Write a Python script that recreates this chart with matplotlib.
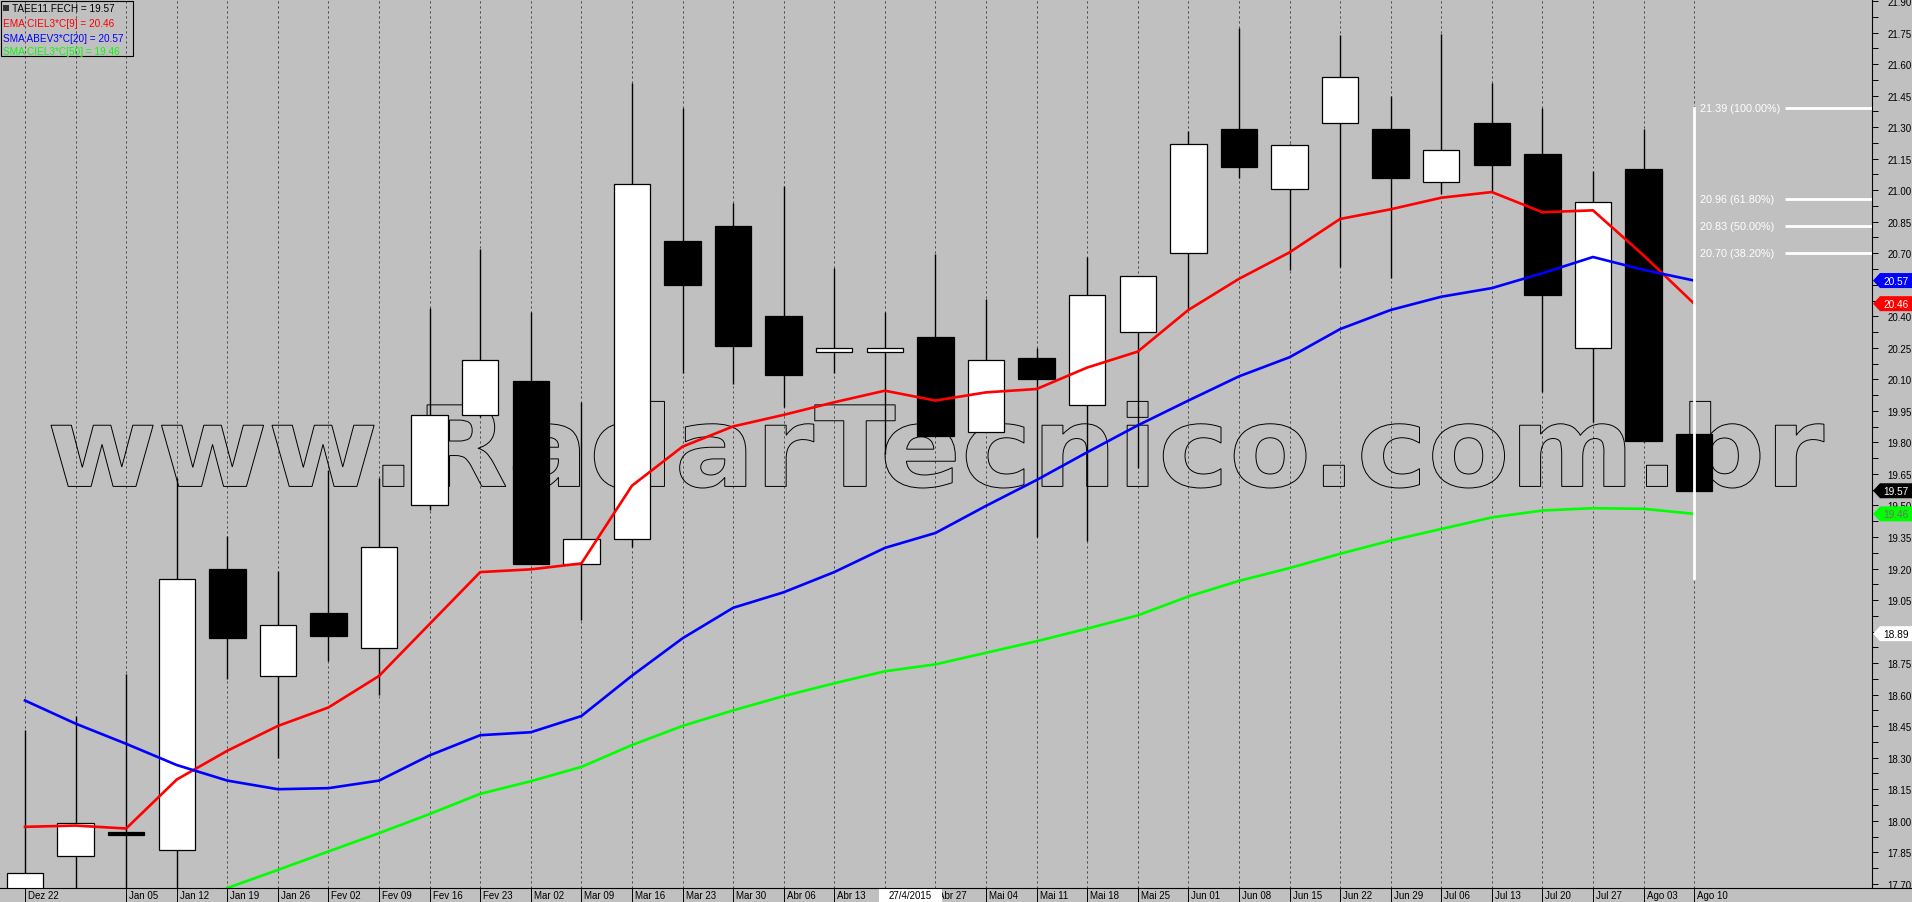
import matplotlib
matplotlib.use("Agg")
import matplotlib.pyplot as plt
from matplotlib.patches import Rectangle, Polygon, PathPatch
from matplotlib.textpath import TextPath
from matplotlib.font_manager import FontProperties
from matplotlib.transforms import Affine2D
from matplotlib.ticker import MultipleLocator, FuncFormatter
from matplotlib.lines import Line2D

plt.rcParams["font.family"] = ["Liberation Sans", "DejaVu Sans"]

# weekly candles TAEE11
week_labels = ["Dez 22", "", "Jan 05", "Jan 12", "Jan 19", "Jan 26", "Fev 02", "Fev 09",
               "Fev 16", "Fev 23", "Mar 02", "Mar 09", "Mar 16", "Mar 23", "Mar 30",
               "Abr 06", "Abr 13", "Abr 20", "Abr 27", "Mai 04", "Mai 11", "Mai 18",
               "Mai 25", "Jun 01", "Jun 08", "Jun 15", "Jun 22", "Jun 29", "Jul 06",
               "Jul 13", "Jul 20", "Jul 27", "Ago 03", "Ago 10"]
opens = [17.62, 17.83, 17.945, 17.86, 19.20, 18.69, 18.99, 18.82, 19.50, 19.93, 20.09,
         19.22, 19.34, 20.76, 20.83, 20.40, 20.23, 20.23, 20.30, 19.85, 20.20, 19.98,
         20.325, 20.70, 21.29, 21.005, 21.32, 21.29, 21.04, 21.32, 21.17, 20.25, 21.10, 19.84]
highs = [18.43, 18.50, 18.70, 19.63, 19.355, 19.19, 19.67, 19.63, 20.44, 20.72, 20.42,
         19.99, 21.51, 21.39, 20.94, 21.02, 20.63, 20.42, 20.695, 20.48, 20.25, 20.68,
         20.59, 21.28, 21.77, 21.22, 21.74, 21.45, 21.745, 21.51, 21.39, 21.09, 21.29, 19.84]
lows = [17.55, 17.62, 17.62, 17.62, 18.675, 18.30, 18.76, 18.60, 19.48, 19.92, 19.22,
        18.955, 19.30, 20.13, 20.08, 19.97, 20.13, 19.745, 19.83, 19.85, 19.35, 19.33,
        19.68, 20.43, 21.06, 20.62, 20.635, 20.58, 20.98, 20.99, 20.04, 19.895, 19.80, 19.57]
closes = [17.75, 17.99, 17.93, 19.15, 18.87, 18.93, 18.88, 19.30, 19.93, 20.19, 19.22,
          19.34, 21.03, 20.55, 20.26, 20.12, 20.25, 20.25, 19.83, 20.19, 20.10, 20.50,
          20.59, 21.22, 21.11, 21.215, 21.54, 21.06, 21.19, 21.12, 20.50, 20.945, 19.805, 19.57]

ema9 = [17.971, 17.977, 17.963, 18.196, 18.333, 18.451, 18.539, 18.689, 18.936, 19.183,
        19.196, 19.224, 19.594, 19.780, 19.876, 19.931, 19.991, 20.046, 19.999, 20.038,
        20.054, 20.156, 20.232, 20.430, 20.578, 20.704, 20.863, 20.909, 20.964, 20.991,
        20.895, 20.904, 20.690, 20.46]
sma20 = [18.572, 18.462, 18.366, 18.265, 18.191, 18.150, 18.155, 18.191, 18.311, 18.407,
         18.421, 18.498, 18.690, 18.868, 19.013, 19.087, 19.183, 19.298, 19.369, 19.498,
         19.621, 19.753, 19.881, 19.999, 20.114, 20.205, 20.339, 20.430, 20.493, 20.534,
         20.605, 20.682, 20.621, 20.57]
sma50 = [None, None, None, None, 17.68, 17.766, 17.854, 17.941, 18.032, 18.128,
         18.188, 18.256, 18.360, 18.451, 18.525, 18.593, 18.654, 18.711, 18.744, 18.799,
         18.854, 18.914, 18.977, 19.067, 19.141, 19.202, 19.270, 19.333, 19.388, 19.443,
         19.476, 19.487, 19.484, 19.46]

fib_levels = [21.39, 20.96, 20.83, 20.70]
fib_labels = ["21.39 (100.00%)", "20.96 (61.80%)", "20.83 (50.00%)", "20.70 (38.20%)"]
fib_low = 19.155

tags = [(20.57, "20.57", "#0000ff", "white"),
        (20.46, "20.46", "#ff0000", "white"),
        (19.57, "19.57", "black", "white"),
        (19.46, "19.46", "#00ff00", "#707070"),
        (18.89, "18.89", "white", "black")]

cursor_date = "27/4/2015"
cursor_week = "Abr 20"   # label hidden under the cursor date box

W, H = 1912, 903
BG = "#c0c0c0"
step = 50.58
n = len(opens)
xs = list(range(n))

fig = plt.figure(figsize=(W / 100, H / 100), dpi=100, facecolor=BG)
ax = fig.add_axes([0, 14 / H, 1872 / W, 889 / H])
ax.set_facecolor(BG)
ax.set_xlim(-25 / step, (1872 - 25) / step)
ax.set_ylim(17.68, 21.9095)

for s in ["top", "left", "bottom"]:
    ax.spines[s].set_visible(False)
ax.spines["right"].set_color("black")
ax.spines["right"].set_linewidth(0.8)
fig.add_artist(Line2D([0, 1], [14 / H, 14 / H], color="black", lw=0.8))


def price_fmt(v, pos):
    # labels hidden behind the value tags are not drawn
    if any(abs(v - t[0]) < 0.03 for t in tags):
        return ""
    return "%.2f" % v


# right price axis
ax.yaxis.tick_right()
ax.yaxis.set_major_locator(MultipleLocator(0.15))
ax.yaxis.set_minor_locator(MultipleLocator(0.075))
ax.yaxis.set_major_formatter(FuncFormatter(price_fmt))
ax.tick_params(axis="y", which="both", length=4, width=0.7, color="black",
               labelsize=7, pad=7)

# bottom ticks: separators per week
tick_pos = [i for i in xs if week_labels[i]]
ax.set_xticks(tick_pos)
ax.set_xticklabels([""] * len(tick_pos))
ax.tick_params(axis="x", length=10, width=0.7, color="black", direction="out")
for i in tick_pos:
    if week_labels[i] == cursor_week:
        continue
    ax.text(i + 3 / step, -7 / 889, week_labels[i], transform=ax.get_xaxis_transform(),
            ha="left", va="center", fontsize=7, clip_on=False)

# cursor date box
ax.add_patch(Rectangle(((879 - 25) / step, -14 / 889), 63 / step, 14 / 889,
                       transform=ax.get_xaxis_transform(), facecolor="white",
                       edgecolor="none", clip_on=False, zorder=5))
ax.text(((879 + 942) / 2 - 25) / step, -7 / 889, cursor_date,
        transform=ax.get_xaxis_transform(), ha="center", va="center", fontsize=7,
        clip_on=False, zorder=6)

# weekly dashed grid
ax.vlines(xs, 17.68, 21.9095, colors="#303030", linestyles=(0, (2.5, 3.5)), lw=0.6, zorder=1)

# watermark outline
tp = TextPath((0, 0), "www.RadarTecnico.com.br", size=100,
              prop=FontProperties(family="DejaVu Sans", weight="bold"))
bb = tp.get_extents()
x0, x1 = (51 - 25) / step, (1824 - 25) / step
y0, y1 = 19.583, 19.995
tr = Affine2D().translate(-bb.x0, -bb.y0).scale((x1 - x0) / bb.width, (y1 - y0) / bb.height) \
    .translate(x0, y0)
ax.add_patch(PathPatch(tr.transform_path(tp), facecolor="none", edgecolor="black",
                       lw=0.7, zorder=2))

# candles
bw = 0.72
for i in xs:
    o, h, l, c = opens[i], highs[i], lows[i], closes[i]
    ax.vlines(i, l, h, colors="black", lw=1.0, zorder=3)
    up = c >= o
    ax.add_patch(Rectangle((i - bw / 2, min(o, c)), bw, abs(c - o),
                           facecolor="white" if up else "black", edgecolor="black",
                           lw=0.9, zorder=4))

# moving averages
ax.plot(xs, ema9, color="#ff0000", lw=1.9, zorder=6)
ax.plot(xs, sma20, color="#0000ff", lw=1.9, zorder=6)
ax.plot(xs, [v if v is not None else float("nan") for v in sma50], color="#00ff00",
        lw=1.9, zorder=6)

# fibonacci retracement
ax.plot([n - 1, n - 1], [fib_low, fib_levels[0]], color="white", lw=2, zorder=7)
xl = ax.get_xlim()[1]
for lev, lab in zip(fib_levels, fib_labels):
    ax.plot([(1785 - 25) / step, xl], [lev, lev], color="white", lw=2, zorder=7,
            solid_capstyle="butt")
    ax.text((1700 - 25) / step, lev, lab, color="white", fontsize=7.8, ha="left",
            va="center", zorder=7)

# price tags on the right axis
ya = ax.get_yaxis_transform()
th = 15 / 210.2 / 2
for val, txt, bg, fg in tags:
    pts = [(1873 / 1872, val), (1880 / 1872, val + th), (1912 / 1872, val + th),
           (1912 / 1872, val - th), (1880 / 1872, val - th)]
    ax.add_patch(Polygon(pts, closed=True, transform=ya, facecolor=bg, edgecolor="none",
                         clip_on=False, zorder=10))
    ax.text(1896 / 1872, val, txt, transform=ya, color=fg, fontsize=7.3, ha="center",
            va="center", clip_on=False, zorder=11)

# legend box
fig.add_artist(Rectangle((1 / W, 1 - 57 / H), 132 / W, 55 / H, transform=fig.transFigure,
                         facecolor="none", edgecolor="black", lw=0.8))
fig.add_artist(Rectangle((3 / W, 1 - 12 / H), 6 / W, 6 / H, transform=fig.transFigure,
                         facecolor="#333333", edgecolor="none"))
legend_rows = [("TAEE11.FECH = 19.57", "black", 12, 9),
               ("EMA CIEL3*C[9] = 20.46", "#ff0000", 3, 24),
               ("SMA ABEV3*C[20] = 20.57", "#0000ff", 3, 39),
               ("SMA CIEL3*C[50] = 19.46", "#00ff00", 3, 52)]
for txt, col, px, py in legend_rows:
    fig.text(px / W, 1 - py / H, txt, color=col, fontsize=7.2, ha="left", va="center")

fig.savefig("out.png", dpi=100, facecolor=BG)
